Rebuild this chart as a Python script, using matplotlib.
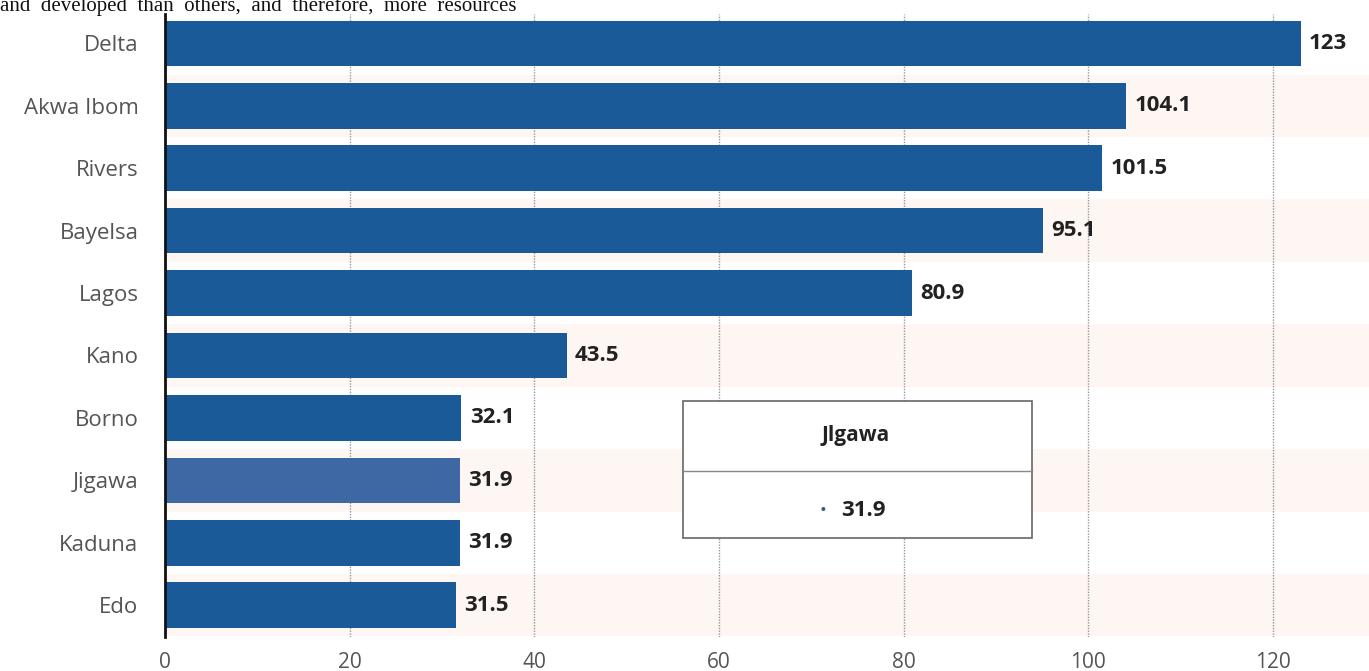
import matplotlib.pyplot as plt
from matplotlib.patches import Rectangle
from matplotlib.lines import Line2D

# Daten
states = ["Delta", "Akwa Ibom", "Rivers", "Bayelsa", "Lagos",
          "Kano", "Borno", "Jigawa", "Kaduna", "Edo"]
values = [123, 104.1, 101.5, 95.1, 80.9, 43.5, 32.1, 31.9, 31.9, 31.5]
value_labels = ["123", "104.1", "101.5", "95.1", "80.9",
                "43.5", "32.1", "31.9", "31.9", "31.5"]
x_ticks = [0, 20, 40, 60, 80, 100, 120]
highlight = "Jigawa"
tooltip_title = "Jlgawa"
tooltip_value = "31.9"
top_text = "and  developed  than  others,  and  therefore,  more  resources"

plt.rcParams['font.family'] = ['Open Sans', 'DejaVu Sans']

fig = plt.figure(figsize=(13.69, 6.71), dpi=100)
ax = fig.add_axes([165 / 1369, 1 - 637 / 671, 1 - 165 / 1369, (637 - 14) / 671])

n = len(states)
# Streifen im Hintergrund
for i in range(n):
    if i % 2 == 1:
        ax.axhspan(i - 0.5, i + 0.5, color="#fdf6f2", zorder=0, lw=0)

colors = ["#3e68a4" if s == highlight else "#1b5a99" for s in states]
ax.barh(range(n), values, height=0.73, color=colors, zorder=2)

for i, (v, lab) in enumerate(zip(values, value_labels)):
    ax.text(v + 0.9, i, lab, va="center", ha="left", fontsize=16,
            fontweight="bold", color="#222222", zorder=3)

ax.set_xlim(0, (1369 - 165) / 9.233)
ax.set_ylim(n - 0.49, -0.47)
ax.set_yticks(range(n))
ax.set_yticklabels(states, fontsize=16, color="#555555")
ax.set_xticks(x_ticks)
ax.set_xticklabels(x_ticks, fontsize=15, color="#555555")
ax.tick_params(axis="both", length=0)
ax.tick_params(axis="y", pad=19)
ax.tick_params(axis="x", pad=11)

ax.grid(axis="x", linestyle=(0, (1, 1)), color="#999999", lw=1.0, zorder=1)
ax.set_axisbelow(True)
for side in ["top", "right", "bottom"]:
    ax.spines[side].set_visible(False)
ax.spines["left"].set_color("#111111")
ax.spines["left"].set_linewidth(2)
ax.spines["left"].set_zorder(4)

# Tooltip
W, H = 1369, 671
x0, x1, y0, y1 = 683, 1032, 401, 538
fig.patches.append(Rectangle((x0 / W, 1 - y1 / H), (x1 - x0) / W, (y1 - y0) / H,
                             transform=fig.transFigure, facecolor="white",
                             edgecolor="#666666", lw=1.2, zorder=10))
fig.lines.append(Line2D([x0 / W, x1 / W], [1 - 471 / H, 1 - 471 / H],
                        transform=fig.transFigure, color="#888888", lw=1, zorder=11))
fig.text(856 / W, 1 - 436 / H, tooltip_title, ha="center", va="center",
         fontsize=15, fontweight="bold", color="#222222", zorder=12)
fig.text(823 / W, 1 - 511 / H, "•", ha="center", va="center",
         fontsize=13, color="#2f5a80", zorder=12)
fig.text(841 / W, 1 - 511 / H, tooltip_value, ha="left", va="center",
         fontsize=16, fontweight="bold", color="#222222", zorder=12)

# abgeschnittener Text oben
fig.text(0, 1 - 11 / H, top_text, ha="left", va="baseline", fontsize=15,
         family=["Liberation Serif", "DejaVu Serif"], color="#111111")

fig.savefig("out.png", dpi=100)
